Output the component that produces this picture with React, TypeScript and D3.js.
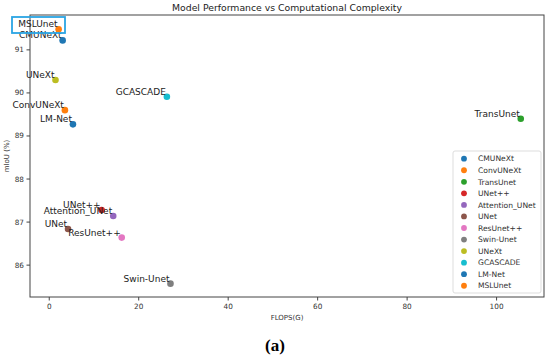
import React from "react";
import * as d3 from "d3";

const models = ["CMUNeXt", "ConvUNeXt", "TransUnet", "UNet++", "Attention_UNet", "UNet", "ResUnet++", "Swin-Unet", "UNeXt", "GCASCADE", "LM-Net", "MSLUnet"];
const flops = [3.0, 3.5, 105.4, 11.7, 14.3, 4.2, 16.2, 27.1, 1.4, 26.3, 5.3, 2.1];
const miou = [91.22, 89.6, 89.4, 87.28, 87.14, 86.84, 86.64, 85.57, 90.3, 89.91, 89.27, 91.48];
const colors = ["#1f77b4", "#ff7f0e", "#2ca02c", "#d62728", "#9467bd", "#8c564b", "#e377c2", "#7f7f7f", "#bcbd22", "#17becf", "#1f77b4", "#ff7f0e"];
const xTicks = [0, 20, 40, 60, 80, 100];
const yTicks = [86, 87, 88, 89, 90, 91];

const W = 550, H = 364;
const L = 30, R = 544, T = 15, B = 297;

export default function App() {
  const x = d3.scaleLinear().domain([-4.3, 110.6]).range([L, R]);
  const y = d3.scaleLinear().domain([85.26, 91.81]).range([B, T]);
  const font = "DejaVu Sans, sans-serif";
  const legX = 453, legY = 151, legW = 88, legH = 142;
  const legStep = 11.55;
  return (
    <svg width={W} height={H} style={{ position: "absolute", left: 0, top: 0 }} fontFamily={font}>
      <rect x={0} y={0} width={W} height={H} fill="#fff" />
      <text x={287} y={10.5} textAnchor="middle" fontSize={9.3} fill="#222">Model Performance vs Computational Complexity</text>
      {/* spines */}
      <rect x={L} y={T} width={R - L} height={B - T} fill="none" stroke="#444" strokeWidth={1} />
      {xTicks.map((t) => (
        <g key={"x" + t}>
          <line x1={x(t)} x2={x(t)} y1={B} y2={B + 3.5} stroke="#444" />
          <text x={x(t)} y={B + 12} textAnchor="middle" fontSize={7.3} fill="#333">{t}</text>
        </g>
      ))}
      {yTicks.map((t) => (
        <g key={"y" + t}>
          <line x1={L - 3.5} x2={L} y1={y(t)} y2={y(t)} stroke="#444" />
          <text x={L - 6} y={y(t) + 2.5} textAnchor="end" fontSize={7.3} fill="#333">{t}</text>
        </g>
      ))}
      <text x={287} y={320} textAnchor="middle" fontSize={7} fill="#333">FLOPS(G)</text>
      <text transform={`translate(9,156) rotate(-90)`} textAnchor="middle" fontSize={7} fill="#333">mIoU (%)</text>
      {models.map((m, i) => (
        <g key={m}>
          <circle cx={x(flops[i])} cy={y(miou[i])} r={3.3} fill={colors[i]} />
          <text x={x(flops[i]) - 1} y={y(miou[i]) - 2} textAnchor="end" fontSize={9} fill="#222">{m}</text>
        </g>
      ))}
      {/* legend */}
      <rect x={legX} y={legY} width={legW} height={legH} fill="#fff" fillOpacity={0.85} stroke="#ddd" rx={2} />
      {models.map((m, i) => (
        <g key={"l" + m}>
          <circle cx={464} cy={158.7 + i * legStep} r={2.9} fill={colors[i]} />
          <text x={478} y={158.7 + i * legStep + 2.7} fontSize={7.6} fill="#333">{m}</text>
        </g>
      ))}
      {/* highlight box */}
      <rect x={12} y={17} width={53} height={16} fill="none" stroke="#2aa5e4" strokeWidth={1.8} />
      <text x={275} y={351} textAnchor="middle" fontSize={17} fontWeight="bold" fontFamily="Liberation Serif, Times New Roman, serif" fill="#000">(a)</text>
    </svg>
  );
}
